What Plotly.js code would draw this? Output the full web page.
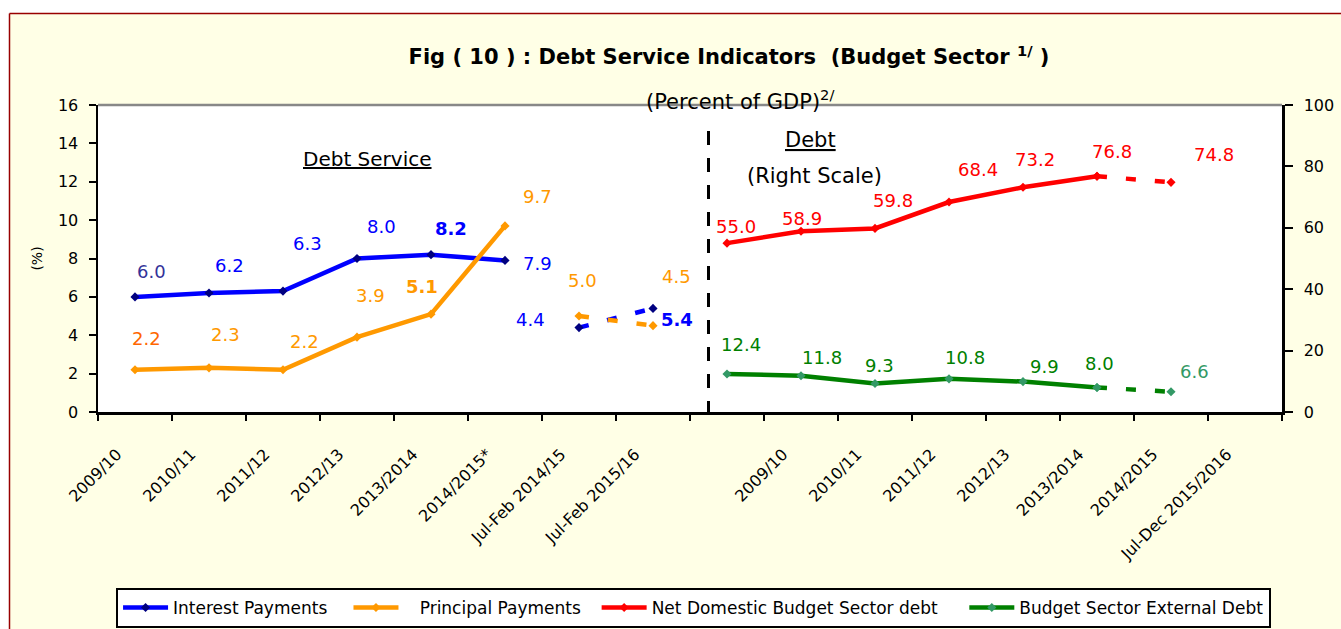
<!DOCTYPE html>
<html><head><meta charset="utf-8">
<script src="https://cdn.plot.ly/plotly-3.0.1.min.js"></script>
<style>html,body{margin:0;padding:0;background:#fff}#chart{width:1341px;height:629px}</style>
</head><body><div id="chart"></div>
<script>
// ---- data ----
const leftCats  = ['2009/10','2010/11','2011/12','2012/13','2013/2014','2014/2015*','Jul-Feb 2014/15','Jul-Feb 2015/16'];
const rightCats = ['2009/10','2010/11','2011/12','2012/13','2013/2014','2014/2015','Jul-Dec 2015/2016'];
const interest        = [6.0, 6.2, 6.3, 8.0, 8.2, 7.9];
const interestJulFeb  = [4.4, 5.4];
const principal       = [2.2, 2.3, 2.2, 3.9, 5.1, 9.7];
const principalJulFeb = [5.0, 4.5];
const domestic        = [55.0, 58.9, 59.8, 68.4, 73.2, 76.8];
const domesticJulDec  = [74.8];
const external        = [12.4, 11.8, 9.3, 10.8, 9.9, 8.0];
const externalJulDec  = [6.6];
const seriesNames = ['Interest Payments', 'Principal Payments', 'Net Domestic Budget Sector debt', 'Budget Sector External Debt'];

// ---- slot layout of the shared category axis (16 slots) ----
const NSLOTS = 16;
const LEFT_LABEL_START = 0;
const RIGHT_LABEL_START = 9;
const RIGHT_DATA_START = 8;
const mid = i => i + 0.5;
const range = (a, n) => Array.from({length:n}, (_, k) => a + k);

const leftX   = range(0, interest.length).map(mid);
const leftJFX = range(interest.length, interestJulFeb.length).map(mid);
const rightX  = range(RIGHT_DATA_START, domestic.length).map(mid);
const rightDX = [rightX[rightX.length-1], mid(RIGHT_DATA_START + domestic.length)];

const FONT = 'DejaVu Sans, Verdana, sans-serif';
const BLUE='#0000FF', ORANGE='#FF9900', RED='#FF0000', GREEN='#008000';
const DASH = '10px,19px';
const NB = n => '\u00a0'.repeat(n);   // spacing inside legend entries

function line(name, x, y, color, mcolor, opts) {
  return Object.assign({
    type:'scatter', mode:'lines+markers', name, x, y,
    line:{color, width:4.5}, marker:{symbol:'diamond', size:7, color:mcolor},
    hoverinfo:'skip'
  }, opts||{});
}

const traces = [
  line(seriesNames[0] + NB(3), leftX, interest, BLUE, '#000080'),
  line(NB(3) + seriesNames[1] + NB(2), leftX, principal, ORANGE, ORANGE),
  line(seriesNames[2] + NB(4), rightX, domestic, RED, RED, {xaxis:'x2', yaxis:'y2'}),
  line(seriesNames[3], rightX, external, GREEN, '#339966', {xaxis:'x2', yaxis:'y2'}),
  line('ipjf', leftJFX, interestJulFeb, BLUE, '#000080', {showlegend:false, line:{color:BLUE, width:4.5, dash:DASH}}),
  line('ppjf', leftJFX, principalJulFeb, ORANGE, ORANGE, {showlegend:false, line:{color:ORANGE, width:4.5, dash:DASH}}),
  line('ndjd', rightDX, [domestic[domestic.length-1], domesticJulDec[0]], RED, RED, {xaxis:'x2', yaxis:'y2', showlegend:false, line:{color:RED, width:4.5, dash:DASH}}),
  line('exjd', rightDX, [external[external.length-1], externalJulDec[0]], GREEN, '#339966', {xaxis:'x2', yaxis:'y2', showlegend:false, line:{color:GREEN, width:4.5, dash:DASH}})
];

// ---- data labels (offsets in px from each point) ----
const labelSets = [
  {x:leftX, y:interest, ax:'y', off:[[16,-25],[20,-28],[24,-48],[24,-32],[20,-26],[32,3]],
   color:['#333399',BLUE,BLUE,BLUE,BLUE,BLUE], bold:[0,0,0,0,1,0]},
  {x:leftJFX, y:interestJulFeb, ax:'y', off:[[-49,-8],[24,11]], color:[BLUE,BLUE], bold:[0,1]},
  {x:leftX, y:principal, ax:'y', off:[[11,-31],[16,-33],[21,-28],[13,-42],[-9,-28],[32,-29]],
   color:['#FF6600',ORANGE,ORANGE,ORANGE,ORANGE,ORANGE], bold:[0,0,0,0,1,0]},
  {x:leftJFX, y:principalJulFeb, ax:'y', off:[[3,-36],[23,-49]], color:[ORANGE,ORANGE], bold:[0,0]},
  {x:rightX, y:domestic, ax:'y2', off:[[9,-17],[1,-13],[18,-28],[29,-33],[12,-28],[15,-25]],
   color:Array(6).fill(RED), bold:Array(6).fill(0)},
  {x:[rightDX[1]], y:domesticJulDec, ax:'y2', off:[[43,-28]], color:[RED], bold:[0]},
  {x:rightX, y:external, ax:'y2', off:[[14,-29],[21,-18],[4,-18],[16,-21],[21,-15],[2,-24]],
   color:Array(6).fill(GREEN), bold:Array(6).fill(0)},
  {x:[rightDX[1]], y:externalJulDec, ax:'y2', off:[[23,-20]], color:['#339966'], bold:[0]}
];
const annotations = [];
labelSets.forEach(s => {
  s.y.forEach((v, i) => {
    const t = v.toFixed(1);
    annotations.push({
      xref: s.ax === 'y' ? 'x' : 'x2', yref: s.ax, x: s.x[i], y: v,
      text: s.bold[i] ? '<b>' + t + '</b>' : t, showarrow:false,
      xanchor:'center', yanchor:'middle', xshift: s.off[i][0], yshift: -s.off[i][1],
      font:{family:FONT, size:18, color:s.color[i]}
    });
  });
});
// text blocks
const txt = (x, y, text, size) => ({xref:'paper', yref:'paper', x, y, text, showarrow:false,
  xanchor:'center', yanchor:'middle', font:{family:FONT, size, color:'#000'}});
annotations.push(
  txt(0.228, 0.824, '<u>Debt Service</u>', 20),
  txt(0.602, 0.886, '<u>Debt</u>', 21),
  txt(0.605, 0.769, '(Right Scale)', 21),
  txt(0.542, 1.016, '(Percent of GDP)<sup>2/</sup>', 21)
);

// ---- frame shapes ----
const px2x = p => (p - 98) / 1184;
const py2y = p => (412 - p) / 307;
const shapes = [
  {type:'rect', xref:'paper', yref:'paper', x0:px2x(-5), x1:px2x(9.5), y0:py2y(640), y1:py2y(-5), fillcolor:'#fff', line:{width:0}, layer:'below'},
  {type:'rect', xref:'paper', yref:'paper', x0:px2x(-5), x1:px2x(1350), y0:py2y(13.5), y1:py2y(-5), fillcolor:'#fff', line:{width:0}, layer:'below'},
  {type:'line', xref:'paper', yref:'paper', x0:px2x(9.5), x1:px2x(9.5), y0:py2y(640), y1:py2y(13.5), line:{color:'#990000', width:1.5}},
  {type:'line', xref:'paper', yref:'paper', x0:px2x(9.5), x1:px2x(1350), y0:py2y(13.5), y1:py2y(13.5), line:{color:'#990000', width:1.5}},
  {type:'line', xref:'paper', yref:'paper', x0:0, x1:1, y0:1, y1:1, line:{color:'#888', width:2.5}},
  {type:'line', xref:'x', yref:'paper', x0:8.25, x1:8.25, y0:py2y(131), y1:py2y(416), line:{color:'#000', width:3, dash:'14px,13px'}}
];

const axisFont = {family:FONT, size:16, color:'#000'};
const layout = {
  width:1341, height:629,
  margin:{l:98, r:59, t:105, b:217, autoexpand:false},
  paper_bgcolor:'#FFFFE6', plot_bgcolor:'#FFFFFF',
  font:{family:FONT, color:'#000'},
  title:{text:'<b>Fig ( 10 ) : Debt Service Indicators  (Budget Sector <sup>1/</sup> )</b>',
         font:{family:FONT, size:21, color:'#000'}, xref:'container', yref:'container',
         x:729/1341, xanchor:'center', y:1-57/629, yanchor:'middle', automargin:false},
  xaxis:{range:[0,NSLOTS], tickmode:'array', tickvals:range(0, NSLOTS+1), showticklabels:false,
         ticks:'outside', ticklen:6, tickwidth:2, tickcolor:'#000', automargin:false,
         showline:true, linecolor:'#000', linewidth:2.5, showgrid:false, zeroline:false, fixedrange:true},
  xaxis2:{overlaying:'x', anchor:'y', side:'bottom', range:[0,NSLOTS], tickmode:'array',
          tickvals: leftCats.map((_, i) => mid(LEFT_LABEL_START + i)).concat(rightCats.map((_, i) => mid(RIGHT_LABEL_START + i))),
          ticktext: leftCats.concat(rightCats), tickangle:-45, ticks:'', ticklabelstandoff:29, ticklabelshift:-18,
          tickfont:axisFont, showline:false, showgrid:false, zeroline:false, fixedrange:true, automargin:false},
  yaxis:{range:[0,16], dtick:2, ticks:'outside', ticklen:7, tickwidth:2, tickcolor:'#000',
         showline:true, linecolor:'#000', linewidth:2.5, showgrid:false, zeroline:false,
         tickfont:axisFont, ticklabelstandoff:7, fixedrange:true, automargin:false,
         title:{text:'(%)', font:{family:FONT, size:14, color:'#000'}, standoff:12}},
  yaxis2:{overlaying:'y', anchor:'x', side:'right', range:[0,100], dtick:20, ticks:'outside', ticklen:8, tickwidth:2, tickcolor:'#000',
          showline:true, linecolor:'#000', linewidth:2.5, showgrid:false, zeroline:false,
          tickfont:axisFont, ticklabelstandoff:8, fixedrange:true, automargin:false},
  legend:{orientation:'h', x:0.503, xanchor:'center', y:py2y(588), yanchor:'top',
          bgcolor:'#fff', bordercolor:'#000', borderwidth:2, font:{family:FONT, size:17, color:'#000'},
          itemwidth:45, traceorder:'normal'},
  annotations, shapes,
  showlegend:true
};

Plotly.newPlot('chart', traces, layout, {displayModeBar:false, staticPlot:true});
</script></body></html>
